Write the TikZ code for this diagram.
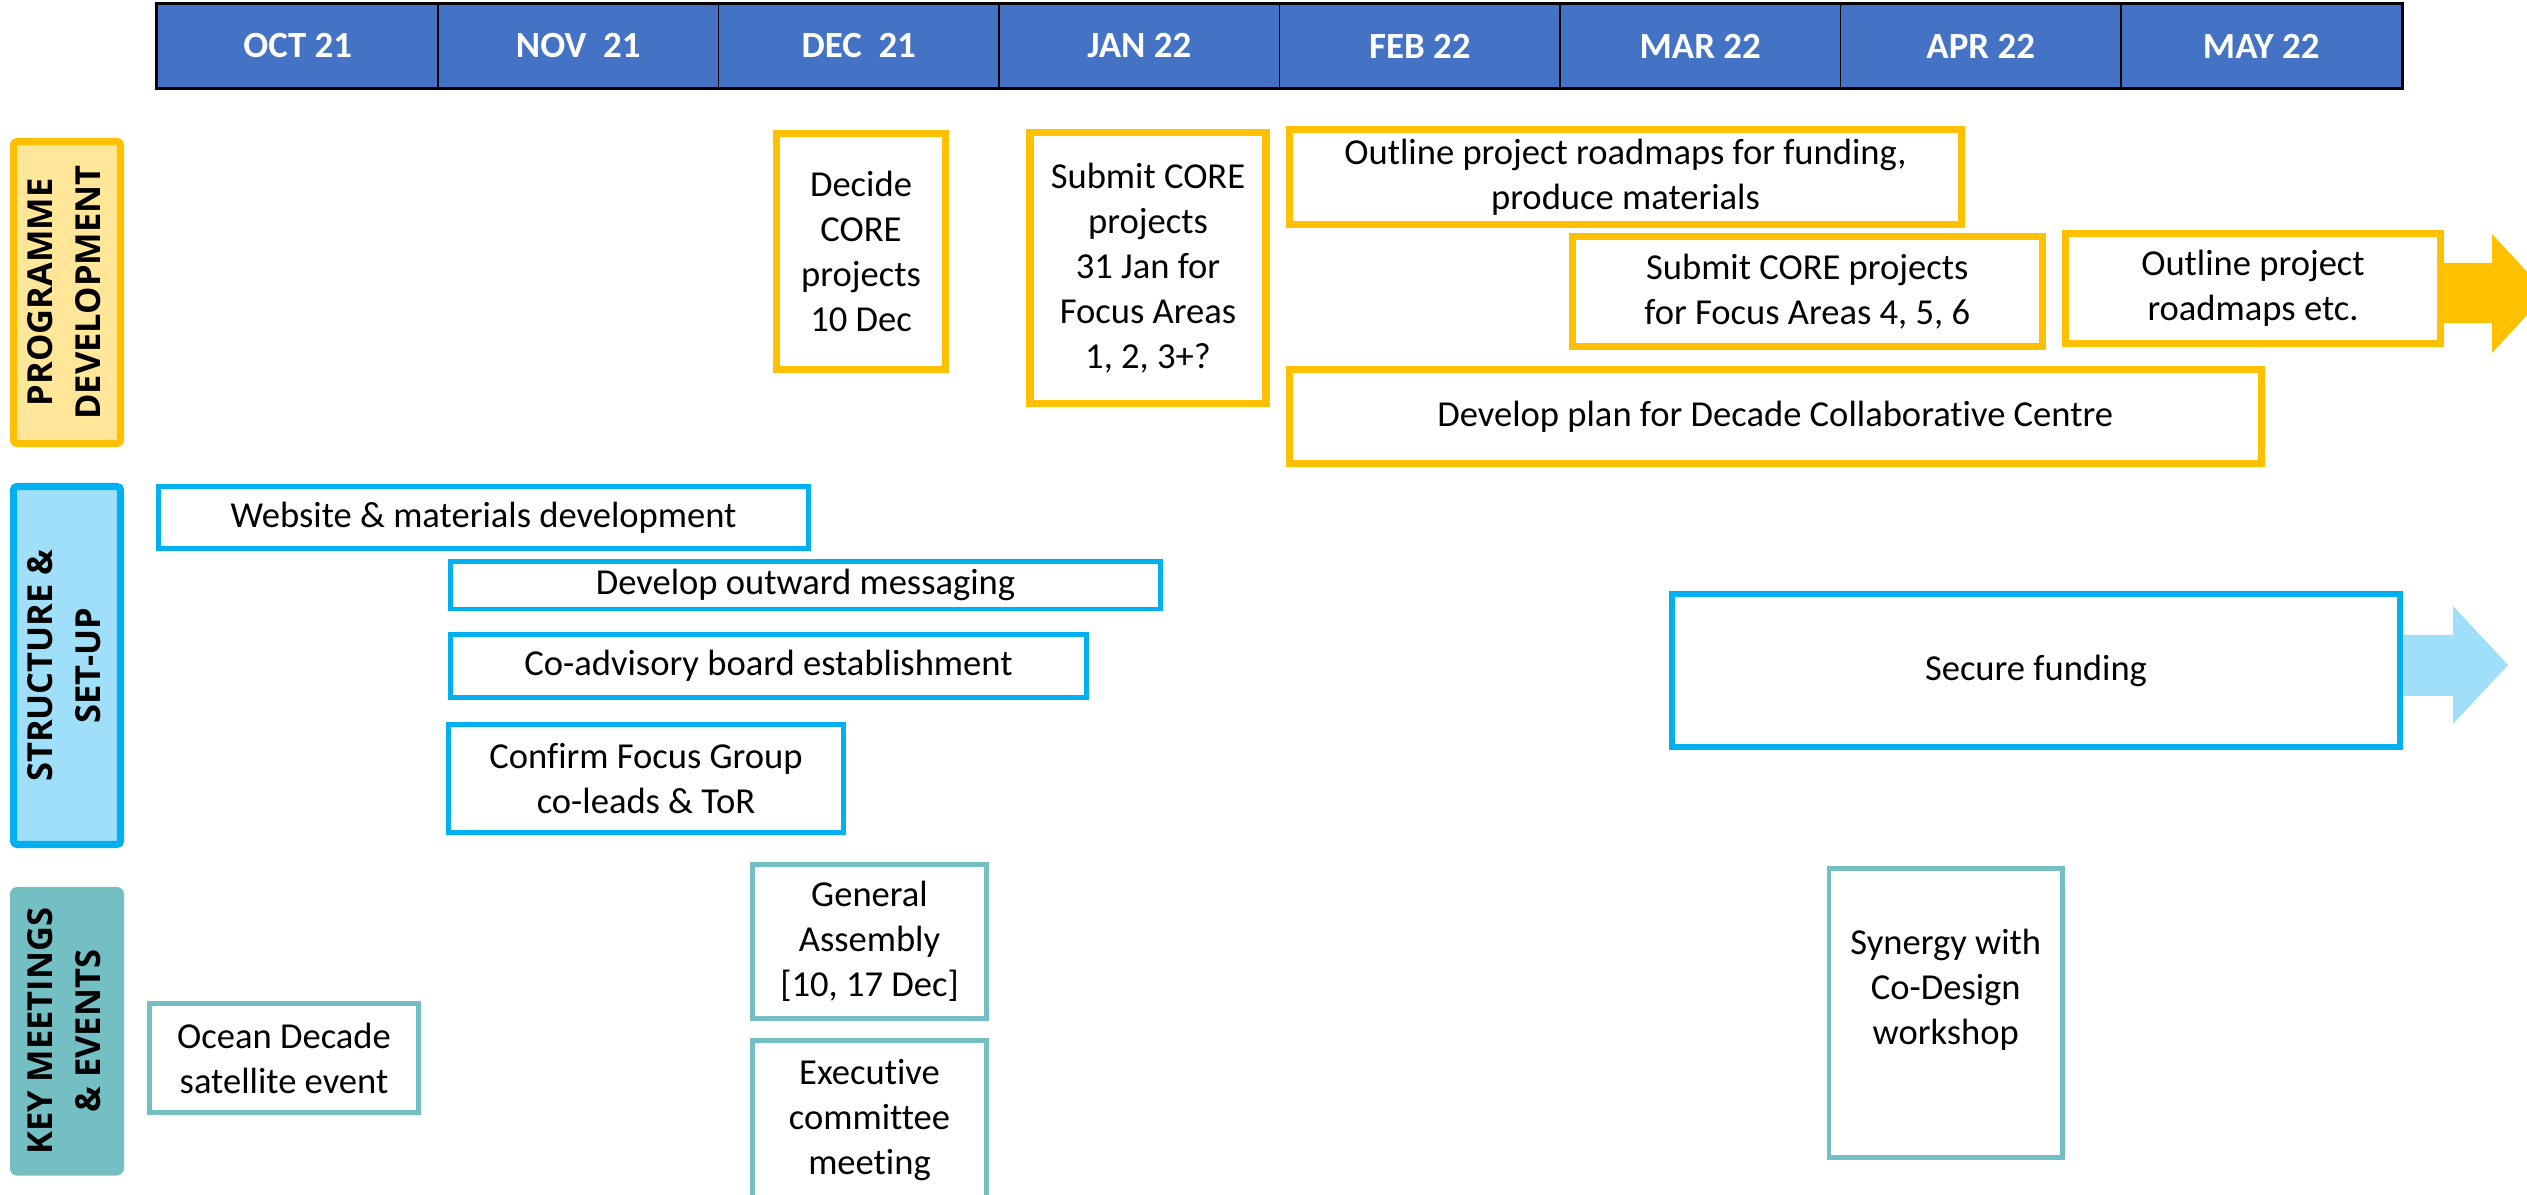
\documentclass[tikz,border=0pt]{standalone}
\usepackage{fontspec}
\setmainfont{Carlito}[Ligatures=NoCommon]
\newfontfamily\labfont{Open Sans}
\definecolor{yel}{HTML}{FFC000}
\definecolor{yelfill}{HTML}{FFE699}
\definecolor{blu}{HTML}{00B0F0}
\definecolor{blufill}{HTML}{A0DFF9}
\definecolor{tea}{HTML}{74BFC4}
\definecolor{hdr}{HTML}{4472C4}
\newcommand\gbox[7]{\node[#6, minimum width={(#4-#2)*0.01cm}, minimum height={(#5-#3)*0.01cm}] (#1) at ({(#2+#4)/2},{(#3+#5)/2}) {#7};}
\newcommand\sidetext[2]{{\labfont\bfseries\fontsize{9.8}{13.5}\selectfont\begin{tabular}{@{}c@{}}#1\\#2\end{tabular}}}
\begin{document}
\begin{tikzpicture}[x=0.01cm,y=-0.01cm,
  basebox/.style={fill=white, align=center, inner sep=0pt, font=\fontsize{10.4}{12.8}\selectfont},
  ybox/.style={basebox, draw=yel, line width=2pt},
  bbox/.style={basebox, draw=blu, line width=1.4pt},
  sbox/.style={basebox, draw=blu, line width=1.8pt},
  tbox/.style={basebox, draw=tea, line width=1.4pt},
  hcell/.style={fill=hdr, draw=black, line width=0.4pt, text=white, inner sep=0pt,
    font=\bfseries\fontsize{10.5}{12}\selectfont, minimum width=2.805cm, minimum height=0.84cm},
  lab/.style={inner sep=0pt, rotate=90},
  txt/.style={align=center, inner sep=0pt, font=\fontsize{10.4}{12.8}\selectfont}]
\clip (0,0) rectangle (2527,1195);
\fill[white] (0,0) rectangle (2527,1195);
% header
\foreach \m [count=\i from 0] in {OCT 21,NOV\ \ 21,DEC\ \ 21,JAN 22,FEB 22,MAR 22,APR 22,MAY 22}
  \node[hcell] (m\i) at ({157.5+(\i+0.5)*280.5},46) {\m};
\draw[line width=0.9pt] (m0.north west) rectangle (m7.south east);
% side labels
\gbox{lprog}{13.5}{141.5}{120.5}{443.5}{fill=yelfill, draw=yel, line width=2pt, rounded corners=1pt}{}
\node[lab] (tprog) at (lprog.center) {\sidetext{PROGRAMME}{DEVELOPMENT}};
\gbox{lstruct}{13.5}{486.5}{120.5}{844.5}{fill=blufill, draw=blu, line width=2pt, rounded corners=1pt}{}
\node[lab] (tstruct) at (lstruct.center) {\sidetext{STRUCTURE \&}{SET-UP}};
\gbox{lkey}{10}{887}{124}{1175.5}{fill=tea, rounded corners=2pt}{}
\node[lab] (tkey) at (lkey.center) {\sidetext{KEY MEETINGS}{\& EVENTS}};
% block arrows
\fill[yel] (2430,263) -- (2492,263) -- (2492,234) -- (2547,293.5) -- (2492,353) -- (2492,323) -- (2430,323) -- cycle;
\fill[blufill] (2390,635) -- (2453,635) -- (2453,606) -- (2508,665) -- (2453,724) -- (2453,696) -- (2390,696) -- cycle;
% programme development
\gbox{decide}{776.5}{133.5}{945.5}{369.5}{ybox}{Decide\\CORE\\projects\\10 Dec}
\gbox{subjan}{1030}{132.5}{1266}{403.5}{ybox}{Submit CORE\\projects\\31 Jan for\\Focus Areas\\1, 2, 3+?}
\gbox{outline}{1289.5}{129.5}{1961.5}{224.5}{ybox}{Outline project roadmaps for funding,\\produce materials}
\gbox{subfa}{1572.5}{236.5}{2042}{346.5}{ybox}{Submit CORE projects\\for Focus Areas 4, 5, 6}
\gbox{outline2}{2065.5}{233.5}{2440.5}{343.5}{ybox}{Outline project\\roadmaps etc.}
\gbox{devplan}{1289.5}{369.5}{2261}{463.5}{ybox}{Develop plan for Decade Collaborative Centre}
% structure & set-up
\gbox{website}{158.5}{486.5}{808.5}{548.5}{bbox}{Website \& materials development}
\gbox{outward}{450.5}{561.5}{1160.5}{609}{bbox}{Develop outward messaging}
\gbox{coadv}{450.5}{634.5}{1086.5}{697.5}{bbox}{Co-advisory board establishment}
\gbox{confirm}{448.5}{724.5}{843.5}{832.5}{bbox}{Confirm Focus Group\\co-leads \& ToR}
\gbox{secure}{1672}{594}{2400}{747}{sbox}{Secure funding}
% key meetings & events
\gbox{ocean}{149.5}{1003.5}{418.5}{1112.5}{tbox}{Ocean Decade\\satellite event}
\gbox{general}{752.5}{864.5}{986.5}{1018.5}{tbox}{General\\Assembly\\{[10, 17 Dec]}}
\gbox{exec}{752.5}{1040.5}{986.5}{1199}{tbox}{Executive\\committee\\meeting}
\gbox{synergy}{1829}{868.5}{2062.5}{1157.5}{tbox}{}
\node[txt] (syntext) at ([yshift=0.23cm]synergy.center) {Synergy with\\Co-Design\\workshop};
\end{tikzpicture}
\end{document}
